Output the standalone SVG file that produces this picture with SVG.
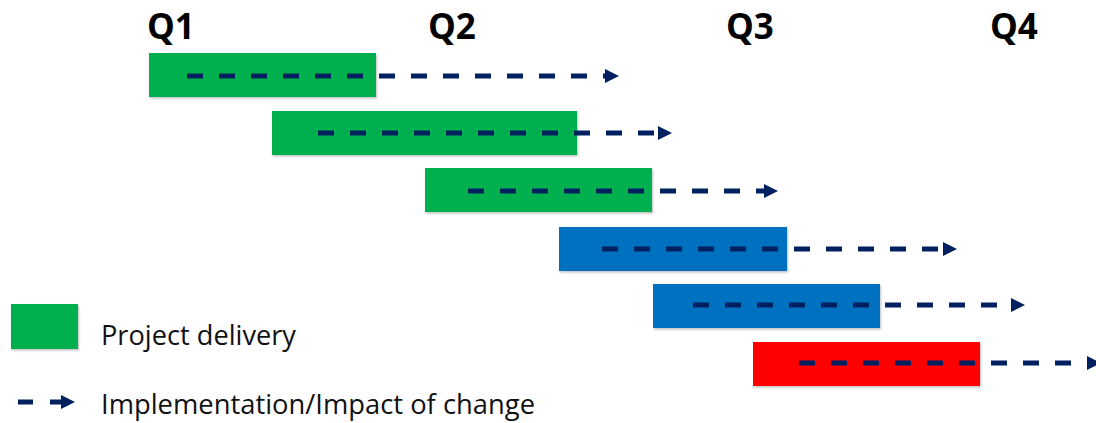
<svg xmlns="http://www.w3.org/2000/svg" width="1096" height="423" viewBox="0 0 1096 423">
  <defs>
    <marker id="head" markerUnits="userSpaceOnUse" markerWidth="15" markerHeight="15" refX="1" refY="7.5" orient="auto">
      <path d="M0,0.5 L14,7.5 L0,14.5 Z" fill="#002060"/>
    </marker>
    <filter id="shadow" x="-5%" y="-10%" width="112%" height="130%">
      <feDropShadow dx="1" dy="1.5" stdDeviation="1" flood-color="#000" flood-opacity="0.25"/>
    </filter>
    <style>
      .q { font-family: "Open Sans", "Noto Sans", sans-serif; font-weight: 700; font-size: 35px; fill: #000; }
      .legend { font-family: "Open Sans", "Noto Sans", sans-serif; font-size: 27px; fill: #111; }
      .bar { filter: url(#shadow); }
      .green { fill: #00B050; }
      .blue { fill: #0070C0; }
      .red { fill: #FF0000; }
      .flow { fill: none; stroke: #002060; stroke-width: 5; stroke-dasharray: 16 16; marker-end: url(#head); }
    </style>
  </defs>
  <rect width="1096" height="423" fill="#fff"/>

  <!-- quarter headings -->
  <g id="quarters">
    <text class="q" x="147" y="39">Q1</text>
    <text class="q" x="428" y="39">Q2</text>
    <text class="q" x="726" y="39">Q3</text>
    <text class="q" x="990" y="39">Q4</text>
  </g>

  <!-- project delivery bars -->
  <g id="project1"><rect class="bar green" x="149" y="53" width="227" height="44"/></g>
  <g id="project2"><rect class="bar green" x="272" y="111" width="305" height="44"/></g>
  <g id="project3"><rect class="bar green" x="425" y="168" width="227" height="44"/></g>
  <g id="project4"><rect class="bar blue" x="559" y="227" width="228" height="44"/></g>
  <g id="project5"><rect class="bar blue" x="653" y="284" width="227" height="44"/></g>
  <g id="project6"><rect class="bar red" x="753" y="342" width="227" height="44"/></g>

  <!-- implementation / impact of change -->
  <g id="connectors">
    <path class="flow" d="M187,76 H606"/>
    <path class="flow" d="M318,133 H659"/>
    <path class="flow" d="M468,191 H765"/>
    <path class="flow" d="M602,249 H944"/>
    <path class="flow" d="M693,305 H1012"/>
    <path class="flow" d="M799,363 H1088"/>
  </g>

  <!-- legend -->
  <g id="legend-delivery">
    <rect class="bar green" x="11" y="304" width="67" height="45"/>
    <text class="legend" x="101" y="345" textLength="195" lengthAdjust="spacingAndGlyphs">Project delivery</text>
  </g>
  <g id="legend-impact">
    <path d="M18,402 H33" stroke="#002060" stroke-width="5" fill="none"/>
    <path d="M50,402 H62" stroke="#002060" stroke-width="5" fill="none" marker-end="url(#head)"/>
    <text class="legend" x="101" y="414" textLength="434" lengthAdjust="spacingAndGlyphs">Implementation/Impact of change</text>
  </g>
</svg>
